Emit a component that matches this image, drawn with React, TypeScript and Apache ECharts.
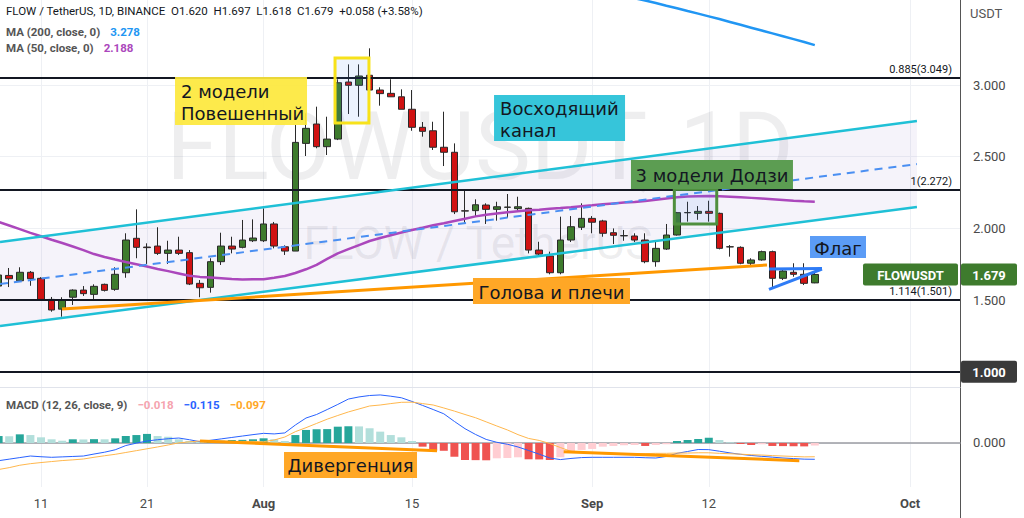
import React, { useEffect, useRef } from 'react';
import * as echarts from 'echarts';

// ---------- x axis: day index, 0 = 7 Jul ----------
const tickDays = [4, 14, 25, 39, 56, 67, 86];
const tickLabels = ['11', '21', 'Aug', '15', 'Sep', '12', 'Oct'];
const monthLabels = ['Aug', 'Sep', 'Oct'];

// ---------- daily candles [open, close, low, high] from 7 Jul to 22 Sep ----------
const ohlc: number[][] = [
  [1.598, 1.675, 1.58, 1.7], [1.672, 1.649, 1.591, 1.724], [1.635, 1.694, 1.629, 1.729], [1.694, 1.649, 1.6, 1.703],
  [1.652, 1.505, 1.498, 1.66], [1.505, 1.431, 1.419, 1.522], [1.437, 1.501, 1.384, 1.52], [1.52, 1.57, 1.466, 1.575],
  [1.57, 1.545, 1.529, 1.598], [1.54, 1.596, 1.508, 1.61], [1.61, 1.568, 1.56, 1.615], [1.575, 1.68, 1.565, 1.729],
  [1.691, 1.919, 1.656, 1.966], [1.931, 1.868, 1.792, 2.133], [1.87, 1.866, 1.752, 1.896], [1.877, 1.826, 1.815, 2.008],
  [1.826, 1.849, 1.752, 1.914], [1.849, 1.826, 1.815, 1.942], [1.831, 1.612, 1.605, 1.849], [1.617, 1.586, 1.52, 1.64],
  [1.589, 1.768, 1.552, 1.792], [1.768, 1.877, 1.745, 1.97], [1.877, 1.856, 1.826, 1.942], [1.868, 1.919, 1.861, 2.059],
  [1.914, 1.933, 1.905, 2.063], [1.914, 2.031, 1.905, 2.14], [2.031, 1.877, 1.861, 2.045], [1.872, 1.842, 1.815, 1.882],
  [1.842, 2.6, 1.842, 2.721], [2.593, 2.698, 2.505, 2.803], [2.728, 2.57, 2.559, 2.849], [2.57, 2.623, 2.512, 2.779],
  [2.623, 3.016, 2.616, 3.04], [3.021, 2.998, 2.798, 3.144], [2.998, 3.063, 2.779, 3.144], [3.068, 2.965, 2.965, 3.256],
  [2.965, 2.94, 2.856, 2.984], [2.942, 2.918, 2.918, 3.04], [2.918, 2.831, 2.831, 2.97], [2.831, 2.705, 2.681, 2.965],
  [2.705, 2.677, 2.64, 2.742], [2.681, 2.566, 2.547, 2.744], [2.566, 2.531, 2.435, 2.814], [2.531, 2.116, 2.1, 2.593],
  [2.123, 2.121, 2.04, 2.268], [2.124, 2.165, 2.086, 2.203], [2.163, 2.133, 2.031, 2.175], [2.133, 2.151, 2.054, 2.186],
  [2.147, 2.149, 2.075, 2.24], [2.138, 2.151, 2.115, 2.221], [2.14, 1.849, 1.826, 2.145], [1.849, 1.821, 1.81, 1.907],
  [1.808, 1.691, 1.68, 1.838], [1.691, 1.919, 1.68, 2.082], [1.919, 2.012, 1.905, 2.086], [2.008, 2.07, 1.989, 2.175],
  [2.07, 2.043, 1.966, 2.086], [2.052, 1.966, 1.942, 2.06], [1.97, 1.952, 1.891, 2.0], [1.95, 1.948, 1.914, 1.989],
  [1.947, 1.919, 1.905, 1.966], [1.919, 1.768, 1.757, 1.966], [1.768, 1.861, 1.733, 1.919], [1.856, 1.954, 1.85, 2.031],
  [1.954, 2.11, 1.95, 2.115], [2.111, 2.109, 2.047, 2.186], [2.105, 2.119, 2.06, 2.156], [2.119, 2.105, 2.047, 2.193],
  [2.105, 1.861, 1.854, 2.11], [1.872, 1.871, 1.803, 1.884], [1.868, 1.757, 1.75, 1.875], [1.757, 1.78, 1.738, 1.792],
  [1.78, 1.838, 1.775, 1.845], [1.838, 1.652, 1.582, 1.845], [1.652, 1.703, 1.64, 1.71], [1.694, 1.68, 1.663, 1.757],
  [1.68, 1.617, 1.605, 1.757], [1.62, 1.679, 1.618, 1.697],
];

const ma50: number[] = [
  2.045, 2.02, 1.995, 1.969, 1.945, 1.921, 1.898, 1.874, 1.849, 1.821,
  1.801, 1.783, 1.766, 1.75, 1.734, 1.717, 1.702, 1.686, 1.67, 1.662,
  1.657, 1.652, 1.647, 1.644, 1.645, 1.646, 1.656, 1.668, 1.689, 1.715,
  1.746, 1.787, 1.826, 1.855, 1.884, 1.912, 1.933, 1.952, 1.971, 1.989,
  2.005, 2.022, 2.036, 2.052, 2.068, 2.084, 2.095, 2.104, 2.112, 2.12,
  2.126, 2.131, 2.137, 2.142, 2.148, 2.155, 2.161, 2.168, 2.174, 2.18,
  2.185, 2.191, 2.2, 2.209, 2.217, 2.222, 2.224, 2.226, 2.224, 2.221,
  2.217, 2.213, 2.208, 2.203, 2.198, 2.193, 2.189, 2.186,
];

const ma200Start = 59;
const ma200: number[] = [
  3.614, 3.605, 3.59, 3.572, 3.553, 3.535, 3.516, 3.498, 3.479, 3.46,
  3.44, 3.42, 3.4, 3.38, 3.36, 3.34, 3.32, 3.3, 3.278,
];

const macdValues: number[] = [
  -0.125, -0.114, -0.103, -0.092, -0.097, -0.101, -0.098, -0.095, -0.092, -0.078,
  -0.065, -0.048, -0.018, -0.001, 0.014, 0.023, 0.03, 0.035, 0.023, 0.009,
  0.019, 0.029, 0.039, 0.049, 0.059, 0.068, 0.064, 0.071, 0.127, 0.176,
  0.201, 0.236, 0.272, 0.31, 0.325, 0.335, 0.339, 0.33, 0.319, 0.293,
  0.265, 0.236, 0.206, 0.152, 0.101, 0.06, 0.025, 0.005, -0.009, -0.028,
  -0.053, -0.079, -0.106, -0.117, -0.109, -0.103, -0.101, -0.101, -0.101, -0.101,
  -0.101, -0.104, -0.106, -0.095, -0.073, -0.06, -0.046, -0.047, -0.058, -0.07,
  -0.08, -0.088, -0.094, -0.1, -0.106, -0.11, -0.114, -0.115,
];

const signalValues: number[] = [
  -0.187, -0.174, -0.157, -0.146, -0.138, -0.131, -0.124, -0.119, -0.113, -0.101,
  -0.09, -0.08, -0.067, -0.054, -0.041, -0.028, -0.014, 0.001, 0.008, 0.014,
  0.013, 0.013, 0.012, 0.011, 0.011, 0.009, 0.021, 0.042, 0.08, 0.108,
  0.138, 0.168, 0.194, 0.219, 0.24, 0.261, 0.268, 0.278, 0.287, 0.288,
  0.278, 0.268, 0.247, 0.225, 0.201, 0.178, 0.149, 0.12, 0.092, 0.059,
  0.032, 0.018, -0.004, -0.032, -0.059, -0.068, -0.072, -0.075, -0.078, -0.077,
  -0.076, -0.075, -0.073, -0.073, -0.071, -0.071, -0.069, -0.069, -0.073, -0.076,
  -0.079, -0.083, -0.085, -0.089, -0.092, -0.095, -0.098, -0.097,
];

const histValues: number[] = [
  0.049, 0.048, 0.061, 0.056, 0.04, 0.026, 0.016, 0.026, 0.025, 0.027,
  0.026, 0.033, 0.049, 0.056, 0.064, 0.049, 0.044, 0.026, 0.014, 0.009,
  0.014, 0.016, 0.021, 0.022, 0.026, 0.033, 0.026, 0.014, 0.056, 0.092,
  0.097, 0.098, 0.115, 0.118, 0.117, 0.104, 0.08, 0.056, 0.04, 0.014,
  -0.026, -0.054, -0.055, -0.097, -0.12, -0.121, -0.122, -0.108, -0.106, -0.101,
  -0.115, -0.116, -0.12, -0.101, -0.068, -0.049, -0.042, -0.026, -0.021, -0.016,
  -0.014, -0.021, -0.014, -0.009, 0.014, 0.021, 0.028, 0.037, 0.021, 0.005,
  -0.007, -0.014, -0.009, -0.021, -0.022, -0.023, -0.024, -0.018,
];

// ---------- price axis ----------
const priceLabels = [1.5, 2, 2.5, 3];
const priceGridLines = [1, 1.5, 2, 2.5, 3];
const fibValues = [3.049, 2.272, 1.501];
const fibLabels = ['0.885(3.049)', '1(2.272)', '1.114(1.501)'];
const supportLevel = 1.0;
const lastClose = 1.679;
const symbolName = 'FLOWUSDT';

// ---------- drawings, in [day index, price] ----------
const channelUpper = [[0.132, 1.905], [86.64, 2.749]];
const channelLower = [[0.132, 1.319], [86.64, 2.149]];
const channelMid = [[0.132, 1.612], [86.64, 2.449]];
const neckline = [[5.98, 1.438], [72.49, 1.745]];
const flagTop = [[72.68, 1.717], [77.68, 1.72]];
const flagBottom = [[72.68, 1.575], [77.68, 1.717]];
const hangingBox = [[31.74, 3.188], [34.94, 2.735]];
const dojiBox = [[63.75, 2.273], [67.75, 2.031]];
const divergence1 = [[19.0, 0.014], [41.36, -0.054]];
const divergence2 = [[53.31, -0.061], [75.54, -0.125]];

const noteTexts = ['2 модели\nПовешенный', 'Восходящий\nканал', '3 модели Додзи', 'Голова и плечи', 'Флаг'];
const notePoints = [[22.87, 2.888], [52.92, 2.77], [67.3, 2.376], [52.16, 1.563], [79.19, 1.87]];
const macdNoteText = 'Дивергенция';
const macdNotePoint = [33.2, -0.155];

// ---------- styles ----------
const noteStyles = [
  { w: 132, h: 48, bg: 'rgba(253,232,60,0.92)', align: 'left' },
  { w: 131, h: 46, bg: '#36c5da', align: 'left' },
  { w: 162, h: 29, bg: '#5c9d52', align: 'center' },
  { w: 157, h: 26, bg: '#ffa726', align: 'center' },
  { w: 56, h: 22, bg: '#5b9cf6', align: 'center' },
];
const macdNoteStyle = { w: 133, h: 26, bg: '#ffa726', align: 'center' };

const FONT = 'Roboto, "Noto Sans", sans-serif';

function textStyle(text: string, fill: string, font: string, align: string) {
  return {
    text, fill, textFill: fill, font,
    align, textAlign: align,
    verticalAlign: 'middle', textVerticalAlign: 'middle',
    lineHeight: 22, textLineHeight: 22,
  };
}

function noteRenderer(points: number[][], texts: string[], styles: any[]) {
  return (params: any, api: any) => {
    const i = params.dataIndex;
    const st = styles[i];
    const c = api.coord(points[i]);
    const left = c[0] - st.w / 2;
    const top = c[1] - st.h / 2;
    const tx = st.align === 'left' ? left + 6 : c[0];
    return {
      type: 'group',
      children: [
        { type: 'rect', shape: { x: left, y: top, width: st.w, height: st.h }, style: { fill: st.bg } },
        { type: 'text', x: tx, y: c[1] + 1, style: textStyle(texts[i], '#131722', '18px "DejaVu Sans"', st.align) },
      ],
    };
  };
}

function seg(data: number[][], color: string, width: number, grid = 0, type: any = 'solid', z = 5) {
  return {
    type: 'line', xAxisIndex: grid, yAxisIndex: grid, data, showSymbol: false, symbol: 'none',
    silent: true, z, lineStyle: { color, width, type }, emphasis: { disabled: true },
  };
}

function histColor(p: any) {
  const i = p.dataIndex;
  const v = histValues[i];
  const prev = i > 0 ? histValues[i - 1] : v;
  if (v >= 0) return i === 0 || v > prev ? '#26a69a' : '#b2dfdb';
  return v < prev ? '#ef5350' : '#ffcdd2';
}

export default function App() {
  const ref = useRef<HTMLDivElement>(null);

  useEffect(() => {
    if (!ref.current) return;
    const chart = echarts.init(ref.current, undefined, { renderer: 'svg' });

    const xCommon = {
      type: 'value', min: 0.132, max: 90.7,
      axisTick: { show: false, customValues: tickDays },
      splitLine: { show: true, lineStyle: { color: '#eef0f4', width: 1 } },
    };

    const option: any = {
      animation: false,
      backgroundColor: '#ffffff',
      title: [
        {
          text: 'FLOWUSDT, 1D', left: 480, top: 100, textAlign: 'center', z: 0, padding: 0,
          textStyle: { fontSize: 94, fontWeight: 'normal', color: 'rgba(120,123,134,0.13)', fontFamily: FONT },
        },
        {
          text: 'FLOW / TetherUS', left: 478, top: 220, textAlign: 'center', z: 0, padding: 0,
          textStyle: { fontSize: 46, fontWeight: 'normal', color: 'rgba(120,123,134,0.13)', fontFamily: FONT },
        },
        {
          text: 'FLOW / TetherUS, 1D, BINANCE  O1.620  H1.697  L1.618  C1.679  +0.058 (+3.58%)',
          left: 6, top: 5, padding: 0,
          textStyle: { fontSize: 11.5, fontWeight: 'normal', color: '#131722', fontFamily: FONT },
        },
        {
          text: '{a|MA (200, close, 0)}  {b|3.278}', left: 6, top: 23, padding: 0,
          textStyle: {
            rich: {
              a: { fontSize: 11.5, color: '#555555', fontFamily: FONT },
              b: { fontSize: 11.5, color: '#2196f3', fontFamily: FONT },
            },
          },
        },
        {
          text: '{a|MA (50, close, 0)}  {b|2.188}', left: 6, top: 39, padding: 0,
          textStyle: {
            rich: {
              a: { fontSize: 11.5, color: '#555555', fontFamily: FONT },
              b: { fontSize: 11.5, color: '#ab47bc', fontFamily: FONT },
            },
          },
        },
        {
          text: '{a|MACD (12, 26, close, 9)}  {h|−0.018}  {m|−0.115}  {s|−0.097}', left: 6, top: 396, padding: 0,
          textStyle: {
            rich: {
              a: { fontSize: 11.5, color: '#555555', fontFamily: FONT },
              h: { fontSize: 11.5, color: '#f5a3ae', fontFamily: FONT },
              m: { fontSize: 11.5, color: '#2962ff', fontFamily: FONT },
              s: { fontSize: 11.5, color: '#ffa726', fontFamily: FONT },
            },
          },
        },
        {
          text: 'USDT', left: 970, top: 7, padding: 0,
          textStyle: { fontSize: 13, fontWeight: 'normal', color: '#555555', fontFamily: FONT },
        },
      ],
      grid: [
        { left: 0, right: 64, top: 0, height: 387 },
        { left: 0, right: 64, top: 387, height: 100 },
      ],
      xAxis: [
        {
          ...xCommon, gridIndex: 0,
          axisLine: { show: true, lineStyle: { color: '#e0e3eb' } },
          axisLabel: { show: false },
        },
        {
          ...xCommon, gridIndex: 1,
          axisLine: { show: true, lineStyle: { color: '#9a9ca3', width: 1.5 } },
          axisLabel: {
            show: true, customValues: tickDays, margin: 10, fontSize: 13, color: '#4a4a4a', fontFamily: FONT,
            formatter: (v: number) => {
              const k = tickDays.indexOf(Math.round(v));
              const t = k >= 0 ? tickLabels[k] : '';
              return monthLabels.includes(t) ? '{b|' + t + '}' : t;
            },
            rich: { b: { fontSize: 13, fontWeight: 'bold', color: '#4a4a4a', fontFamily: FONT } },
          },
        },
      ],
      yAxis: [
        {
          type: 'value', gridIndex: 0, position: 'right', min: 0.894, max: 3.593,
          axisLine: { show: true, lineStyle: { color: '#555555' } },
          axisTick: { show: false, customValues: priceGridLines },
          splitLine: { show: true, lineStyle: { color: '#eef0f4' } },
          axisLabel: {
            customValues: priceLabels, margin: 13, fontSize: 13, color: '#4a4a4a', fontFamily: FONT,
            formatter: (v: number) => v.toFixed(3),
          },
        },
        {
          type: 'value', gridIndex: 1, position: 'right', min: -0.3105, max: 0.395,
          axisLine: { show: true, lineStyle: { color: '#555555' } },
          axisTick: { show: false, customValues: [0] },
          splitLine: { show: true, lineStyle: { color: '#eef0f4' } },
          axisLabel: {
            customValues: [0], margin: 13, fontSize: 13, color: '#4a4a4a', fontFamily: FONT,
            formatter: (v: number) => v.toFixed(3),
          },
        },
      ],
      series: [
        // channel fill
        {
          type: 'custom', xAxisIndex: 0, yAxisIndex: 0, z: 1, silent: true,
          data: [[10, 1.6]],
          renderItem: (_p: any, api: any) => ({
            type: 'polygon',
            shape: { points: [channelUpper[0], channelUpper[1], channelLower[1], channelLower[0]].map((q) => api.coord(q)) },
            style: { fill: 'rgba(149,117,205,0.09)' },
          }),
        },
        // candles
        {
          type: 'candlestick', xAxisIndex: 0, yAxisIndex: 0, z: 3, barWidth: 7,
          data: ohlc.map((c, i) => [i, c[0], c[1], c[2], c[3]]),
          itemStyle: {
            color: '#3e7b2d', color0: '#d01212',
            borderColor: '#2a2a2a', borderColor0: '#2a2a2a', borderWidth: 1,
          },
          markLine: {
            silent: true, symbol: ['none', 'none'],
            lineStyle: { color: '#131722', width: 2, type: 'solid' },
            data: [
              ...fibValues.map((v, k) => ({
                yAxis: v,
                label: {
                  show: true, position: 'insideEndTop', formatter: fibLabels[k],
                  color: '#131722', fontSize: 11, fontFamily: FONT, distance: [8, 3],
                },
              })),
              { yAxis: supportLevel, label: { show: false } },
            ],
          },
        },
        // moving averages
        {
          type: 'line', xAxisIndex: 0, yAxisIndex: 0, z: 4, showSymbol: false, symbol: 'none', silent: true,
          data: ma50.map((v, i) => [i, v]), lineStyle: { color: '#ab47bc', width: 2.5 },
        },
        {
          type: 'line', xAxisIndex: 0, yAxisIndex: 0, z: 4, showSymbol: false, symbol: 'none', silent: true,
          data: ma200.map((v, k) => [ma200Start + k, v]), lineStyle: { color: '#2196f3', width: 2.5 },
        },
        // channel and pattern lines
        seg(channelUpper, '#1fc0d6', 2.5),
        seg(channelLower, '#1fc0d6', 2.5),
        seg(channelMid, '#4a8ff2', 2, 0, [8, 6]),
        seg(neckline, '#ff9800', 3),
        seg(flagTop, '#2f7cf6', 3),
        seg(flagBottom, '#2f7cf6', 3),
        // boxes
        {
          type: 'custom', xAxisIndex: 0, yAxisIndex: 0, z: 6, silent: true,
          data: [hangingBox[0], dojiBox[0]],
          renderItem: (p: any, api: any) => {
            const b = p.dataIndex === 0 ? hangingBox : dojiBox;
            const a = api.coord(b[0]);
            const c = api.coord(b[1]);
            return {
              type: 'rect',
              shape: { x: Math.min(a[0], c[0]), y: Math.min(a[1], c[1]), width: Math.abs(c[0] - a[0]), height: Math.abs(c[1] - a[1]) },
              style: {
                fill: 'rgba(66,133,244,0.10)',
                stroke: p.dataIndex === 0 ? '#f7e21b' : '#4e8f3e', lineWidth: 3,
              },
            };
          },
        },
        // labels on price chart
        {
          type: 'custom', xAxisIndex: 0, yAxisIndex: 0, z: 10, silent: true,
          data: notePoints,
          renderItem: noteRenderer(notePoints, noteTexts, noteStyles),
        },
        // price tags on the axis
        {
          type: 'custom', xAxisIndex: 0, yAxisIndex: 0, z: 20, silent: true, clip: false,
          data: [[10, lastClose]],
          renderItem: (p: any, api: any) => {
            const cs = p.coordSys;
            const right = cs.x + cs.width;
            const yp = api.coord([10, lastClose])[1];
            const ys = api.coord([10, supportLevel])[1];
            const white = (t: string, x: number, y: number) => ({
              type: 'text', x, y: y + 1, style: textStyle(t, '#ffffff', 'bold 13px ' + FONT, 'center'),
            });
            return {
              type: 'group',
              children: [
                { type: 'rect', shape: { x: right - 97, y: yp - 11, width: 95, height: 22, r: 2 }, style: { fill: '#3e7b2d' } },
                white(symbolName, right - 49.5, yp),
                { type: 'rect', shape: { x: right + 1, y: yp - 11, width: 56, height: 22, r: 2 }, style: { fill: '#3e7b2d' } },
                white(lastClose.toFixed(3), right + 29, yp),
                { type: 'rect', shape: { x: right + 1, y: ys - 11, width: 56, height: 22, r: 2 }, style: { fill: '#3a3a3a' } },
                white(supportLevel.toFixed(3), right + 29, ys),
              ],
            };
          },
        },
        // ---------- MACD pane ----------
        {
          type: 'bar', xAxisIndex: 1, yAxisIndex: 1, barWidth: 8, z: 2, silent: true,
          data: histValues.map((v, i) => [i, v]),
          itemStyle: { color: histColor },
        },
        {
          type: 'line', xAxisIndex: 1, yAxisIndex: 1, z: 3, showSymbol: false, symbol: 'none', silent: true,
          data: macdValues.map((v, i) => [i, v]), lineStyle: { color: '#2962ff', width: 1 },
        },
        {
          type: 'line', xAxisIndex: 1, yAxisIndex: 1, z: 3, showSymbol: false, symbol: 'none', silent: true,
          data: signalValues.map((v, i) => [i, v]), lineStyle: { color: '#ffb74d', width: 1 },
        },
        seg(divergence1, '#ff9800', 3, 1),
        seg(divergence2, '#ff9800', 3, 1),
        {
          type: 'custom', xAxisIndex: 1, yAxisIndex: 1, z: 10, silent: true, clip: false,
          data: [macdNotePoint],
          renderItem: (p: any, api: any) => {
            const cs = p.coordSys;
            const note = noteRenderer([macdNotePoint], [macdNoteText], [macdNoteStyle])(p, api);
            const right = cs.x + cs.width;
            return {
              type: 'group',
              children: [
                note,
                { type: 'line', shape: { x1: right + 0.5, y1: cs.y + cs.height, x2: right + 0.5, y2: api.getHeight() }, style: { stroke: '#555555', lineWidth: 1 } },
              ],
            };
          },
        },
      ],
    };

    chart.setOption(option);
    return () => chart.dispose();
  }, []);

  return <div ref={ref} style={{ position: 'absolute', left: 0, top: 0, width: 1024, height: 518 }} />;
}
